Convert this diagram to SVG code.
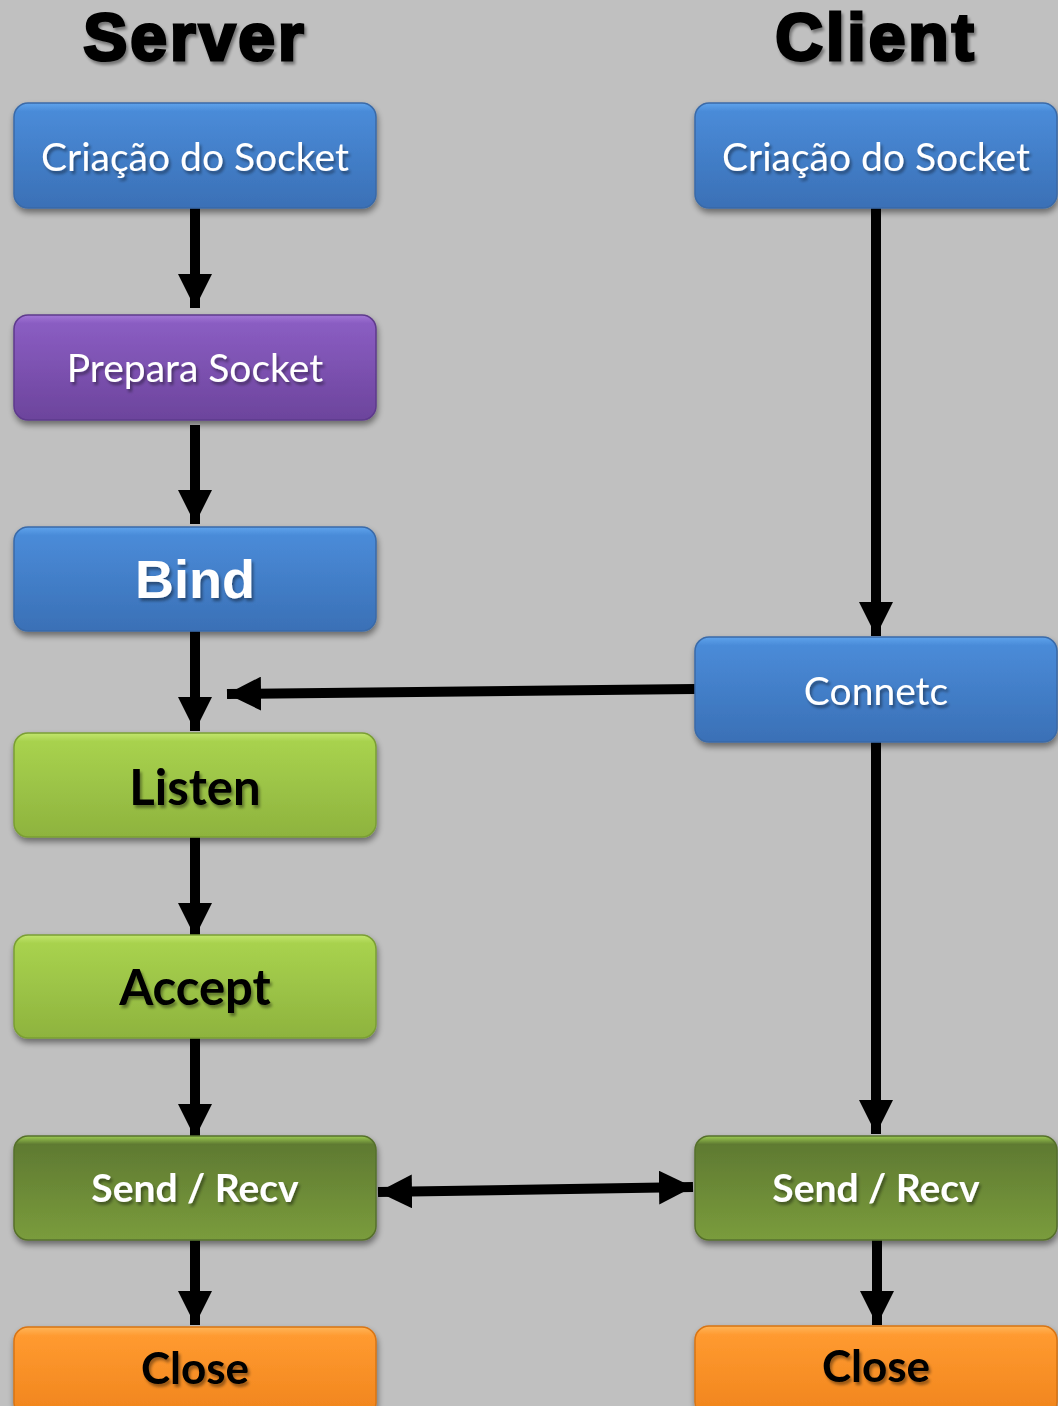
<svg xmlns="http://www.w3.org/2000/svg" width="1058" height="1406" viewBox="0 0 1058 1406">
  <defs>
    <style>
      .title { font-family: "Liberation Sans", Arial, sans-serif; font-weight: 900; font-size: 66px; letter-spacing: 3px; fill: #000; stroke: #000; stroke-width: 3px; text-anchor: middle; }
      .lbl { font-family: Lato, "Open Sans", sans-serif; font-size: 39px; text-anchor: middle; dominant-baseline: central; }
      .lbl.big { font-size: 49px; }
      .lbl.close { font-size: 44px; }
      .light { fill: #fff; }
      .dark { fill: #000; }
      .b { font-weight: bold; }
      .box { stroke-width: 1.5; }
      .edge { stroke: #000; stroke-width: 10; fill: none; }
    </style>
    <linearGradient id="gBlue" x1="0" y1="0" x2="0" y2="1">
      <stop offset="0" stop-color="#5ea3ec"/>
      <stop offset="0.08" stop-color="#4a8bd8"/>
      <stop offset="1" stop-color="#3a70b6"/>
    </linearGradient>
    <linearGradient id="gPurple" x1="0" y1="0" x2="0" y2="1">
      <stop offset="0" stop-color="#a276d6"/>
      <stop offset="0.08" stop-color="#8a5dc2"/>
      <stop offset="1" stop-color="#6c449c"/>
    </linearGradient>
    <linearGradient id="gLime" x1="0" y1="0" x2="0" y2="1">
      <stop offset="0" stop-color="#c2e66e"/>
      <stop offset="0.08" stop-color="#a8d24e"/>
      <stop offset="1" stop-color="#8eb33e"/>
    </linearGradient>
    <linearGradient id="gOlive" x1="0" y1="0" x2="0" y2="1">
      <stop offset="0" stop-color="#9ccc52"/>
      <stop offset="0.08" stop-color="#5f7a32"/>
      <stop offset="1" stop-color="#7a9c3c"/>
    </linearGradient>
    <linearGradient id="gOrange" x1="0" y1="0" x2="0" y2="1">
      <stop offset="0" stop-color="#ffb558"/>
      <stop offset="0.1" stop-color="#ff9a30"/>
      <stop offset="1" stop-color="#f0841c"/>
    </linearGradient>
    <filter id="shadow" x="-10%" y="-10%" width="120%" height="130%">
      <feGaussianBlur in="SourceAlpha" stdDeviation="3"/>
      <feOffset dx="1" dy="4" result="off"/>
      <feComponentTransfer><feFuncA type="linear" slope="0.45"/></feComponentTransfer>
      <feMerge><feMergeNode/><feMergeNode in="SourceGraphic"/></feMerge>
    </filter>
    <filter id="tshadow" x="-10%" y="-20%" width="120%" height="150%">
      <feGaussianBlur in="SourceAlpha" stdDeviation="1.5"/>
      <feOffset dx="2" dy="3" result="off"/>
      <feComponentTransfer><feFuncA type="linear" slope="0.4"/></feComponentTransfer>
      <feMerge><feMergeNode/><feMergeNode in="SourceGraphic"/></feMerge>
    </filter>
    <marker id="head" viewBox="0 0 10 10" refX="10" refY="5" markerWidth="3.4" markerHeight="3.4" orient="auto-start-reverse" markerUnits="strokeWidth">
      <path d="M0,0 L10,5 L0,10 Z" fill="#000"/>
    </marker>
  </defs>

  <rect width="1058" height="1406" fill="#c0c0c0"/>

  <text class="title" x="195" y="60" filter="url(#tshadow)">Server</text>
  <text class="title" x="876" y="60" filter="url(#tshadow)">Client</text>

  <!-- connectors -->
  <g id="connectors">
    <line class="edge" x1="195" y1="208" x2="195" y2="308" marker-end="url(#head)"/>
    <line class="edge" x1="195" y1="425" x2="195" y2="524" marker-end="url(#head)"/>
    <line class="edge" x1="195" y1="631" x2="195" y2="731" marker-end="url(#head)"/>
    <line class="edge" x1="195" y1="837" x2="195" y2="937" marker-end="url(#head)"/>
    <line class="edge" x1="195" y1="1038" x2="195" y2="1138" marker-end="url(#head)"/>
    <line class="edge" x1="195" y1="1240" x2="195" y2="1325" marker-end="url(#head)"/>
    <line class="edge" x1="876" y1="208" x2="876" y2="636" marker-end="url(#head)"/>
    <line class="edge" x1="876" y1="742" x2="876" y2="1134" marker-end="url(#head)"/>
    <line class="edge" x1="877" y1="1240" x2="877" y2="1325" marker-end="url(#head)"/>
    <line class="edge" x1="695" y1="689" x2="227" y2="694" marker-end="url(#head)"/>
    <line class="edge" x1="378" y1="1192" x2="693" y2="1187" marker-start="url(#head)" marker-end="url(#head)"/>
  </g>

  <!-- server side -->
  <g id="srv-create" filter="url(#shadow)">
    <rect class="box" x="14" y="103" width="362" height="105" rx="14" fill="url(#gBlue)" stroke="#3a6aa8"/>
    <text class="lbl light" x="195" y="156" filter="url(#tshadow)">Criação do Socket</text>
  </g>
  <g id="srv-prepare" filter="url(#shadow)">
    <rect class="box" x="14" y="315" width="362" height="105" rx="14" fill="url(#gPurple)" stroke="#5e3a8c"/>
    <text class="lbl light" x="195" y="367" filter="url(#tshadow)">Prepara Socket</text>
  </g>
  <g id="srv-bind" filter="url(#shadow)">
    <rect class="box" x="14" y="527" width="362" height="104" rx="14" fill="url(#gBlue)" stroke="#3a6aa8"/>
    <text x="195" y="598" text-anchor="middle" font-family="Liberation Sans, Arial, sans-serif" font-weight="bold" font-size="54" fill="#fff" filter="url(#tshadow)">Bind</text>
  </g>
  <g id="srv-listen" filter="url(#shadow)">
    <rect class="box" x="14" y="733" width="362" height="104" rx="14" fill="url(#gLime)" stroke="#7a9e34"/>
    <text class="lbl big dark b" x="195" y="786" filter="url(#tshadow)">Listen</text>
  </g>
  <g id="srv-accept" filter="url(#shadow)">
    <rect class="box" x="14" y="935" width="362" height="103" rx="14" fill="url(#gLime)" stroke="#7a9e34"/>
    <text class="lbl big dark b" x="195" y="986" filter="url(#tshadow)">Accept</text>
  </g>
  <g id="srv-sendrecv" filter="url(#shadow)">
    <rect class="box" x="14" y="1136" width="362" height="104" rx="14" fill="url(#gOlive)" stroke="#56702c"/>
    <text class="lbl light b" x="195" y="1187" filter="url(#tshadow)">Send / Recv</text>
  </g>
  <g id="srv-close" filter="url(#shadow)">
    <rect class="box" x="14" y="1327" width="362" height="90" rx="14" fill="url(#gOrange)" stroke="#d87414"/>
    <text class="lbl close dark b" x="195" y="1367" filter="url(#tshadow)">Close</text>
  </g>

  <!-- client side -->
  <g id="cli-create" filter="url(#shadow)">
    <rect class="box" x="695" y="103" width="362" height="105" rx="14" fill="url(#gBlue)" stroke="#3a6aa8"/>
    <text class="lbl light" x="876" y="156" filter="url(#tshadow)">Criação do Socket</text>
  </g>
  <g id="cli-connect" filter="url(#shadow)">
    <rect class="box" x="695" y="637" width="362" height="105" rx="14" fill="url(#gBlue)" stroke="#3a6aa8"/>
    <text class="lbl light" x="876" y="690" filter="url(#tshadow)">Connetc</text>
  </g>
  <g id="cli-sendrecv" filter="url(#shadow)">
    <rect class="box" x="695" y="1136" width="362" height="104" rx="14" fill="url(#gOlive)" stroke="#56702c"/>
    <text class="lbl light b" x="876" y="1187" filter="url(#tshadow)">Send / Recv</text>
  </g>
  <g id="cli-close" filter="url(#shadow)">
    <rect class="box" x="695" y="1326" width="362" height="90" rx="14" fill="url(#gOrange)" stroke="#d87414"/>
    <text class="lbl close dark b" x="876" y="1365" filter="url(#tshadow)">Close</text>
  </g>
</svg>
